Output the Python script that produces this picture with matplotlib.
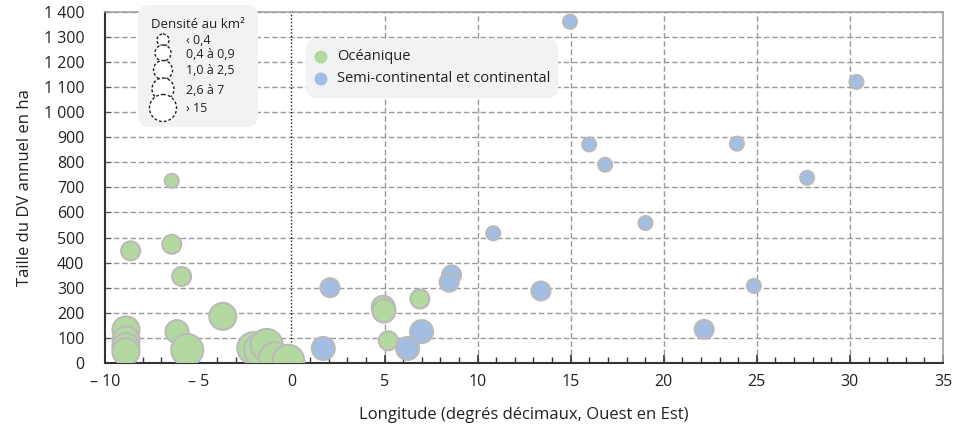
import matplotlib
matplotlib.use("Agg")
import matplotlib.pyplot as plt
from matplotlib.patches import FancyBboxPatch, Circle
from matplotlib.ticker import MultipleLocator, FuncFormatter

plt.rcParams['font.family'] = ['Open Sans', 'DejaVu Sans']

# ---- data ----
green_x = [-6.43, -8.64, -6.43, -5.90, -3.69, -8.89, -8.89, -8.89, -8.89, -6.15, -5.60,
           -2.05, -1.69, -1.33, -0.89, -0.17, 4.93, 4.97, 5.20, 6.90]
green_y = [726, 447, 473, 345, 186, 132, 92, 65, 45, 125, 52,
           59, 52, 72, 19, 9, 222, 207, 89, 255]
green_cat = [0, 1, 1, 1, 3, 3, 3, 3, 3, 2, 4,
             4, 4, 4, 4, 4, 2, 2, 1, 1]

blue_x = [14.96, 30.35, 15.99, 16.85, 23.93, 27.70, 19.02, 24.84, 22.17, 13.40,
          10.84, 2.07, 8.60, 8.47, 1.71, 6.24, 6.99]
blue_y = [1360, 1120, 871, 790, 874, 738, 558, 307, 134, 287,
          517, 300, 351, 322, 58, 58, 125]
blue_cat = [0, 0, 0, 0, 0, 0, 0, 0, 1, 1,
            0, 1, 1, 1, 2, 2, 2]

density_labels = ["‹ 0,4", "0,4 à 0,9", "1,0 à 2,5", "2,6 à 7", "› 15"]
series_labels = ["Océanique", "Semi-continental et continental"]
x_ticks = [-10, -5, 0, 5, 10, 15, 20, 25, 30, 35]
y_ticks = list(range(0, 1401, 100))

# ---- style ----
green = "#b3d9a1"
blue = "#a3bde3"
edge = "#bababa"
cat_diam_px = [14, 19, 23, 27, 32]
legend_diam_px = [12, 16, 19, 22, 27]

fig = plt.figure(figsize=(9.57, 4.33), dpi=100)
W, H = 957, 433
ax = fig.add_axes([105.3 / W, 1 - 363 / H, (943 - 105.3) / W, (363 - 11.7) / H])

def sizes(cats):
    return [(cat_diam_px[c] * 0.72) ** 2 for c in cats]

ax.scatter(green_x, green_y, s=sizes(green_cat), c=green, edgecolors=edge,
           linewidths=1.5, zorder=3)
ax.scatter(blue_x, blue_y, s=sizes(blue_cat), c=blue, edgecolors=edge,
           linewidths=1.5, zorder=3)

ax.set_xlim(-10, 35)
ax.set_ylim(0, 1400)
ax.set_xticks(x_ticks)
ax.xaxis.set_minor_locator(MultipleLocator(1))
ax.set_yticks(y_ticks)

def xfmt(v, pos):
    v = int(round(v))
    return ("– %d" % (-v)) if v < 0 else "%d" % v

def yfmt(v, pos):
    v = int(round(v))
    return "{:,}".format(v).replace(",", " ")

ax.xaxis.set_major_formatter(FuncFormatter(xfmt))
ax.yaxis.set_major_formatter(FuncFormatter(yfmt))

ax.tick_params(axis='x', which='major', direction='in', length=6, width=1.2,
               color='#333333', labelsize=11.5, labelcolor='#222222', pad=8)
ax.tick_params(axis='x', which='minor', direction='in', length=4, width=1,
               color='#333333')
ax.tick_params(axis='y', which='major', direction='in', length=4, width=0.8,
               color='#555555', labelsize=11.5, labelcolor='#222222', pad=15)

# grid lines
for yv in y_ticks[1:]:
    ax.axhline(yv, color='#9a9a9a', lw=1, ls=(0, (4, 2)), zorder=1)
for xv in [5, 10, 15, 20, 25, 30]:
    ax.axvline(xv, color='#9a9a9a', lw=1, ls=(0, (4, 2)), zorder=1)
ax.axvline(0, color='#222222', lw=1, ls=(0, (1, 1.5)), zorder=1)

for side in ['left', 'bottom']:
    ax.spines[side].set_color('#333333')
    ax.spines[side].set_linewidth(1.5)
for side in ['top', 'right']:
    ax.spines[side].set_color('#a0a0a0')
    ax.spines[side].set_linewidth(1.2)

ax.set_xlabel("Longitude (degrés décimaux, Ouest en Est)", fontsize=12,
              color='#222222', labelpad=12)
ax.set_ylabel("Taille du DV annuel en ha", fontsize=12, color='#222222',
              labelpad=8)

# ---- legends drawn in pixel coordinates ----
lax = fig.add_axes([0, 0, 1, 1], zorder=10)
lax.set_xlim(0, W)
lax.set_ylim(H, 0)
lax.axis('off')

box1 = FancyBboxPatch((138, 5), 120, 122, boxstyle="round,pad=0,rounding_size=12",
                      fc='#f1f2f2', ec='none')
lax.add_patch(box1)
lax.text(198, 24, "Densité au km²", ha='center', va='center', fontsize=9.5,
         color='#222222')
circ_y = [40, 53, 70, 89, 108]
lab_y = [40, 55, 71, 90, 108]
for d, cy, ly, lab in zip(legend_diam_px, circ_y, lab_y, density_labels):
    lax.add_patch(Circle((163, cy), d / 2, fc='white', ec='#222222', lw=1,
                         ls=(0, (2, 1.5))))
    lax.text(186, ly, lab, ha='left', va='center', fontsize=9, color='#222222')

box2 = FancyBboxPatch((306, 39), 252, 59, boxstyle="round,pad=0,rounding_size=10",
                      fc='#f1f2f2', ec='none')
lax.add_patch(box2)
for cy, col, lab in zip([57, 79], [green, blue], series_labels):
    lax.add_patch(Circle((321, cy), 6.5, fc=col, ec='none'))
    lax.text(337, cy, lab, ha='left', va='center', fontsize=10.5, color='#222222')

fig.savefig("out.png", dpi=100)
